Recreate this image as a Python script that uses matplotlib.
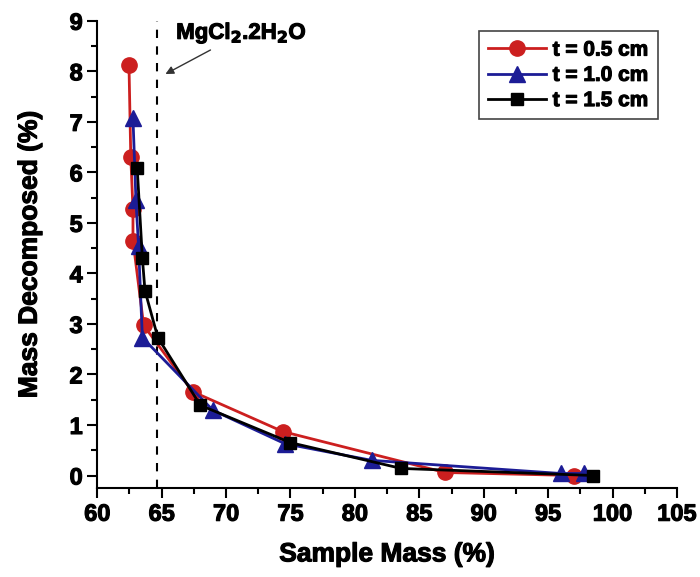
import matplotlib.pyplot as plt
import matplotlib.patheffects as pe
from matplotlib.ticker import MultipleLocator

plt.rcParams['font.family'] = ['Liberation Sans', 'DejaVu Sans']
plt.rcParams['font.weight'] = 'bold'
plt.rcParams['mathtext.default'] = 'bf'

# sample mass (%) vs mass decomposed (%) for three bed thicknesses
mass_05 = [62.46, 62.6, 62.77, 62.77, 63.6, 67.4, 74.4, 87.0, 97.0]
dec_05 = [8.12, 6.3, 5.27, 4.65, 2.97, 1.66, 0.87, 0.06, 0.0]

mass_10 = [62.77, 63.0, 63.2, 63.5, 68.98, 74.56, 81.3, 96.0, 97.8]
dec_10 = [7.07, 5.45, 4.55, 2.73, 1.29, 0.63, 0.30, 0.04, 0.04]

mass_15 = [63.1, 63.5, 63.7, 64.7, 68.0, 75.0, 83.6, 98.5]
dec_15 = [6.08, 4.3, 3.66, 2.73, 1.39, 0.65, 0.14, 0.0]

x_ticks = [60, 65, 70, 75, 80, 85, 90, 95, 100, 105]
y_ticks = [0, 1, 2, 3, 4, 5, 6, 7, 8, 9]

hydrate_mass = 64.6

# slightly heavier lettering than plain bold
heavy = [pe.withStroke(linewidth=0.8, foreground='black')]

fig = plt.figure(figsize=(7, 5.77), dpi=100)
ax = fig.add_axes([0.139, 0.154, 0.828, 0.81])

ax.plot(mass_05, dec_05, color='#cc1f1f', marker='o', ms=11, lw=2, label='t = 0.5 cm')
ax.plot(mass_10, dec_10, color='#1c1c96', marker='^', ms=11, lw=2, label='t = 1.0 cm')
ax.plot(mass_15, dec_15, color='black', marker='s', ms=8.5, lw=2, label='t = 1.5 cm')

ax.axvline(hydrate_mass, color='black', ls=(0, (4, 4)), lw=1.5, zorder=0)
ax.annotate('MgCl$_2$.2H$_2$O', xy=(65.1, 7.92), xytext=(71.2, 8.75),
            ha='center', va='center', fontsize=16, fontweight='bold', path_effects=heavy,
            arrowprops=dict(arrowstyle='-|>', color='#333333', lw=1, mutation_scale=12))

ax.set_xlim(60, 105)
ax.set_ylim(-0.25, 9)
ax.set_xticks(x_ticks, [str(v) for v in x_ticks], fontsize=17, fontweight='bold')
ax.set_yticks(y_ticks, [str(v) for v in y_ticks], fontsize=17, fontweight='bold')
ax.xaxis.set_minor_locator(MultipleLocator(2.5))
ax.yaxis.set_minor_locator(MultipleLocator(0.5))
ax.spines['top'].set_visible(False)
ax.spines['right'].set_visible(False)
for s in ('left', 'bottom'):
    ax.spines[s].set_linewidth(1.5)
ax.tick_params(which='major', direction='out', length=7, width=1.5)
ax.tick_params(which='minor', direction='out', length=4, width=1.5)
for lbl in ax.get_xticklabels() + ax.get_yticklabels():
    lbl.set_path_effects(heavy)

ax.set_xlabel('Sample Mass (%)', fontsize=19, fontweight='bold', labelpad=12, path_effects=heavy)
ax.set_ylabel('Mass Decomposed (%)', fontsize=19, fontweight='bold', labelpad=20, path_effects=heavy)

leg = ax.legend(loc='upper right', bbox_to_anchor=(0.985, 1.0), fontsize=15,
                fancybox=False, edgecolor='#444444', framealpha=1,
                handlelength=2.8, borderpad=0.45, labelspacing=0.3, handletextpad=0.3)
leg.get_frame().set_linewidth(1.2)
for t in leg.get_texts():
    t.set_path_effects(heavy)

fig.savefig('out.png', dpi=100)
